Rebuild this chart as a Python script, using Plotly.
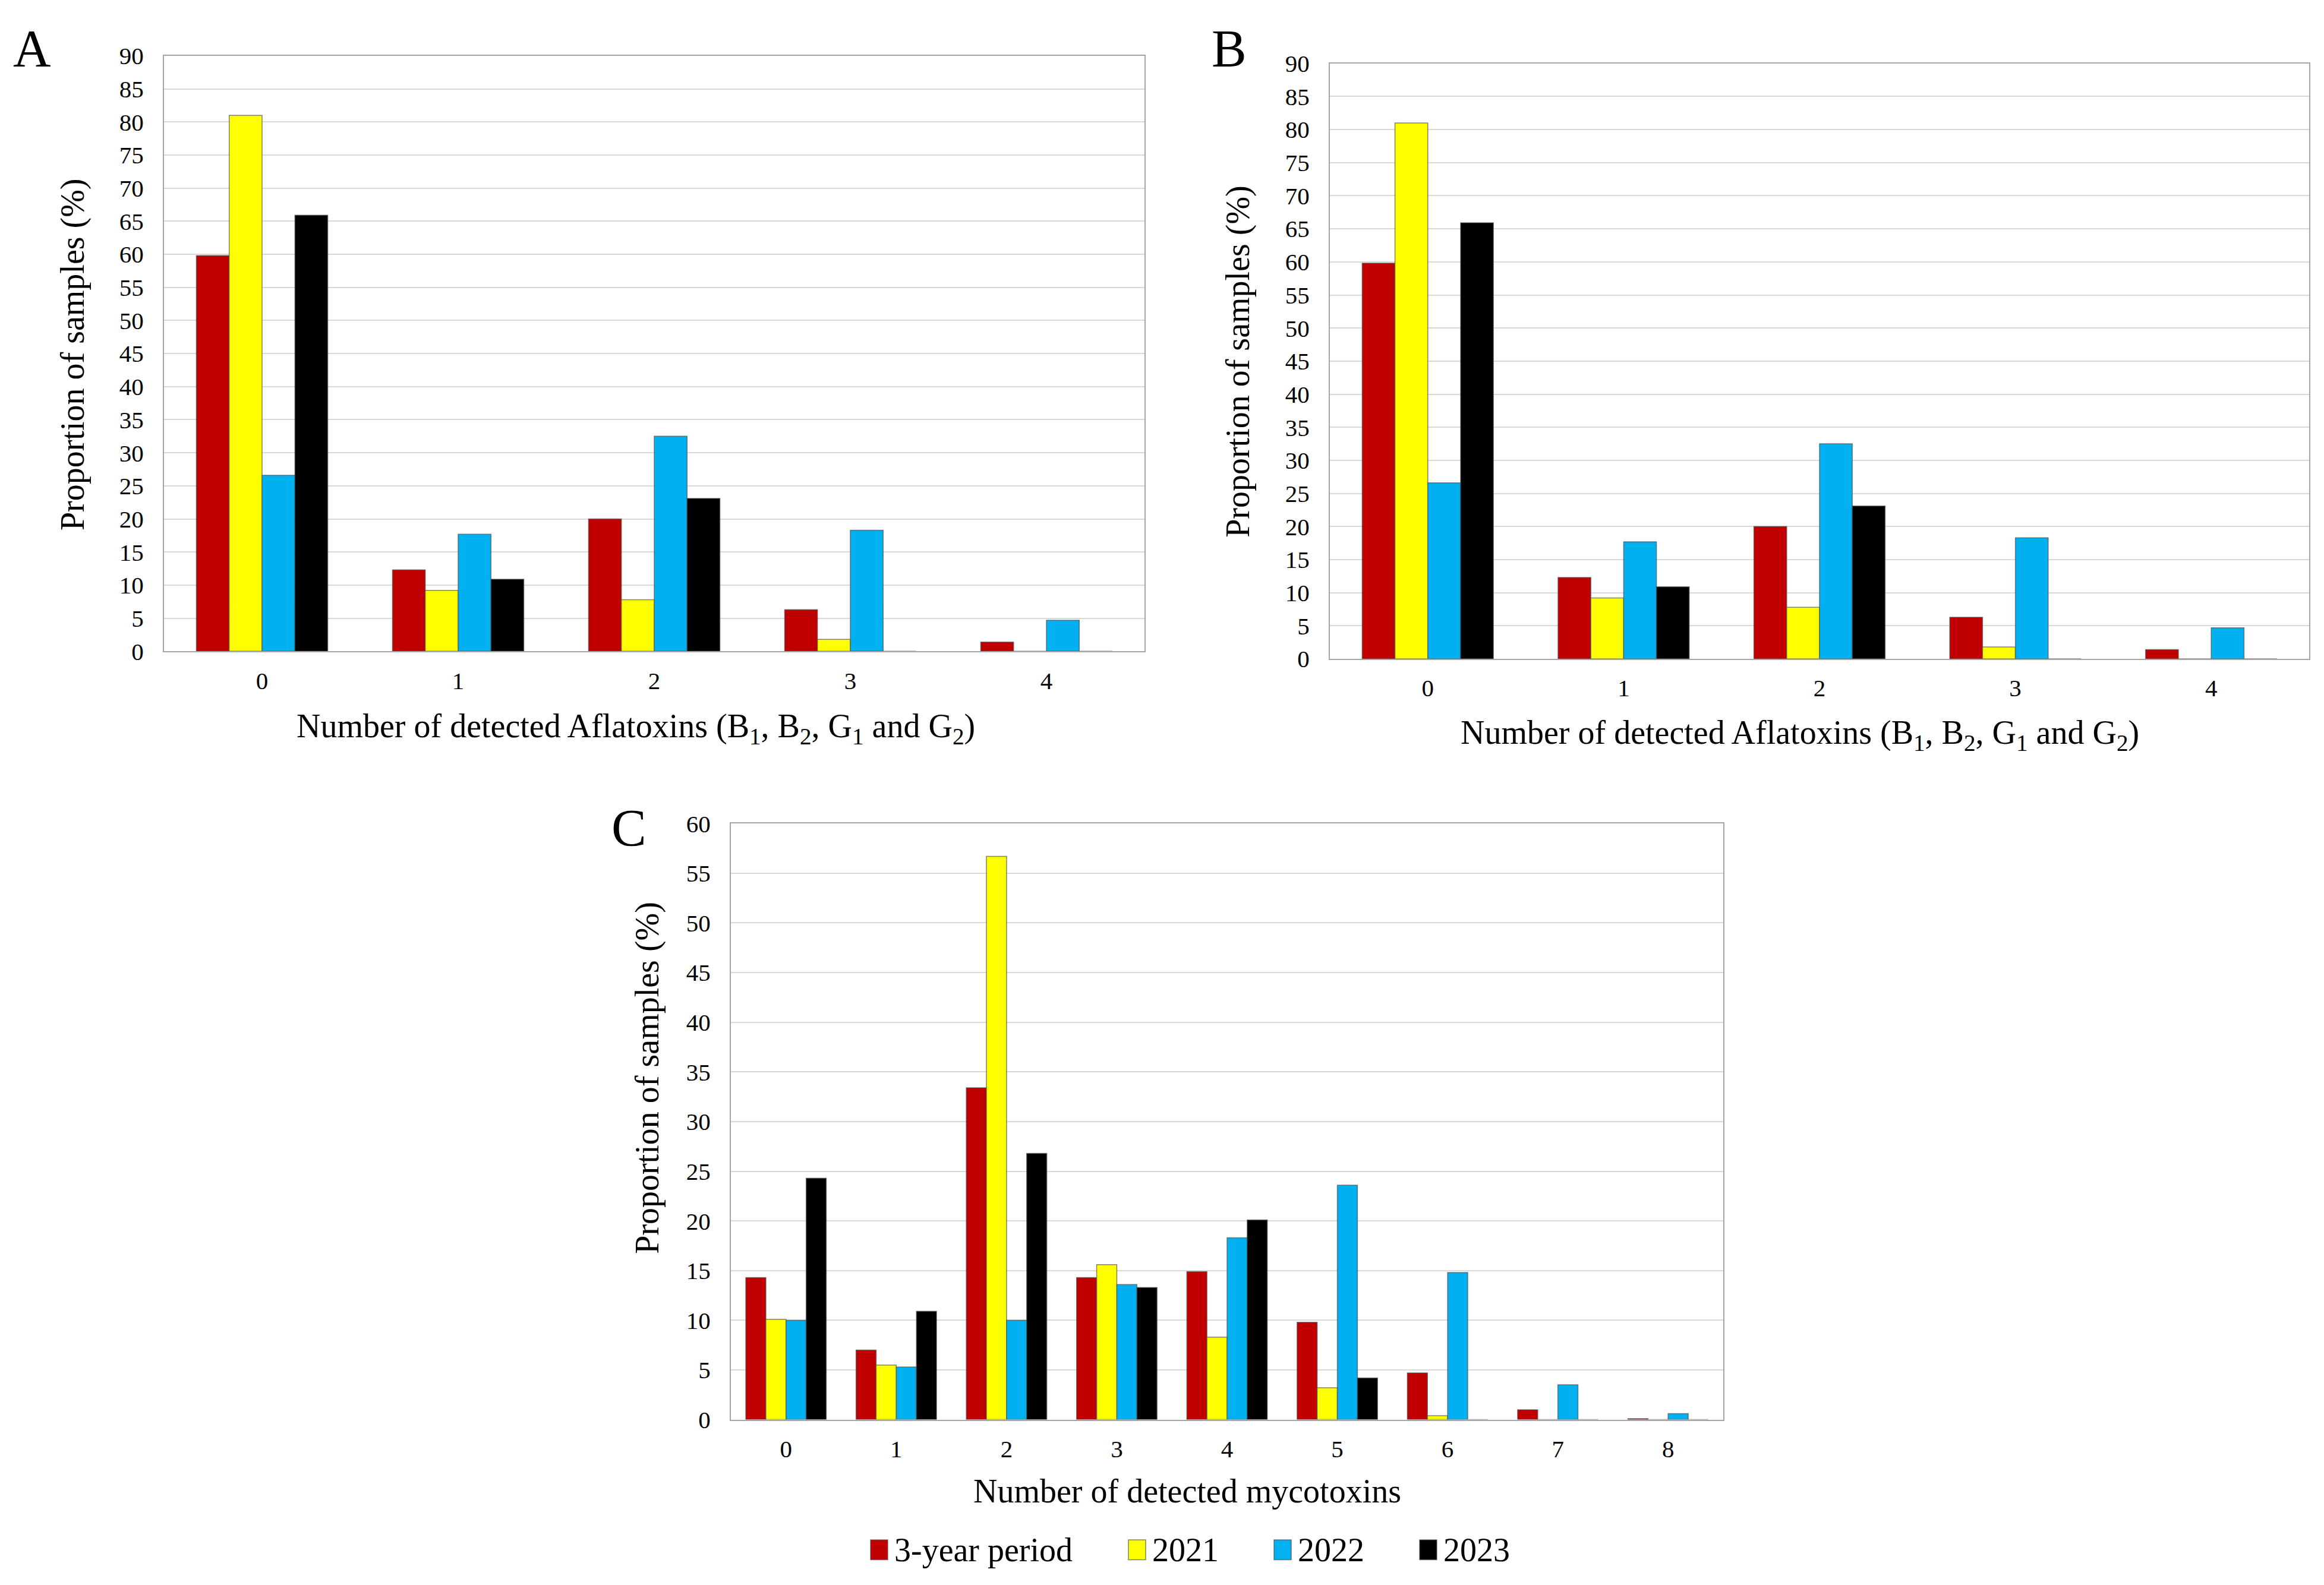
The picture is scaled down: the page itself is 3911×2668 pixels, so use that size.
import plotly.graph_objects as go

# series names and colours
series = ["3-year period", "2021", "2022", "2023"]
colors = ["#C00000", "#FFFF00", "#00B0F0", "#000000"]

# panels A and B: number of detected aflatoxins
afla_cats = ["0", "1", "2", "3", "4"]
afla_period = [59.8, 12.3, 20.0, 6.3, 1.4]
afla_2021 = [81.0, 9.2, 7.8, 1.8, 0.0]
afla_2022 = [26.6, 17.7, 32.5, 18.3, 4.7]
afla_2023 = [65.9, 10.9, 23.1, 0.0, 0.0]

# panel C: number of detected mycotoxins
myco_cats = ["0", "1", "2", "3", "4", "5", "6", "7", "8"]
myco_period = [14.3, 7.0, 33.4, 14.3, 14.9, 9.8, 4.7, 1.0, 0.1]
myco_2021 = [10.1, 5.5, 56.7, 15.6, 8.3, 3.2, 0.4, 0.0, 0.0]
myco_2022 = [10.0, 5.3, 10.0, 13.6, 18.3, 23.6, 14.8, 3.5, 0.6]
myco_2023 = [24.3, 10.9, 26.8, 13.3, 20.1, 4.2, 0.0, 0.0, 0.0]

afla_vals = [afla_period, afla_2021, afla_2022, afla_2023]
myco_vals = [myco_period, myco_2021, myco_2022, myco_2023]

FONT = "Liberation Serif"
W, H = 3911, 2668
EDGE = dict(color="rgba(80,80,80,0.7)", width=1.5)


def add_group(cats, all_vals, ax, group_frac):
    # 4 bars side by side inside each category slot
    w = group_frac / len(all_vals)
    for i, (name, col, vals) in enumerate(zip(series, colors, all_vals)):
        fig.add_trace(go.Bar(
            x=cats, y=vals, name=name, showlegend=False,
            width=w, offset=-group_frac / 2 + i * w,
            marker=dict(color=col, line=EDGE),
            xaxis="x" + ax, yaxis="y" + ax))


fig = go.Figure()
add_group(afla_cats, afla_vals, "", 0.67)
add_group(afla_cats, afla_vals, "2", 0.67)
add_group(myco_cats, myco_vals, "3", 0.73)

xcommon = dict(type="category", showgrid=False, showline=True, mirror=True,
               linecolor="#A6A6A6", linewidth=2, ticks="",
               tickfont=dict(family=FONT, size=41, color="black"),
               ticklabelstandoff=12, zeroline=False)
ycommon = dict(showgrid=True, gridcolor="#D9D9D9", gridwidth=2,
               showline=True, mirror=True, linecolor="#A6A6A6", linewidth=2,
               ticks="", tickfont=dict(family=FONT, size=41, color="black"),
               ticklabelstandoff=24, zeroline=False)

fig.update_layout(
    width=W, height=H,
    margin=dict(l=0, r=0, t=0, b=0),
    paper_bgcolor="white", plot_bgcolor="white",
    barmode="overlay",
    showlegend=False,
    font=dict(family=FONT, color="black"),
    xaxis=dict(domain=[268 / W, 1918 / W], anchor="y", **xcommon),
    yaxis=dict(domain=[1 - 1084 / H, 1 - 64 / H], anchor="x", range=[0, 90], dtick=5, **ycommon),
    xaxis2=dict(domain=[2230 / W, 3878 / W], anchor="y2", **xcommon),
    yaxis2=dict(domain=[1 - 1097 / H, 1 - 77 / H], anchor="x2", range=[0, 90], dtick=5, **ycommon),
    xaxis3=dict(domain=[1222 / W, 2892 / W], anchor="y3", **xcommon),
    yaxis3=dict(domain=[1 - 2400 / H, 1 - 1379 / H], anchor="x3", range=[0, 60], dtick=5, **ycommon),
)

anns = []
# panel letters
for letter, x, y in [("A", 46, 0), ("B", 2060, 0), ("C", 1050, 1335)]:
    anns.append(dict(text=letter, x=x / W, y=1 - y / H, xref="paper", yref="paper",
                     showarrow=False, xanchor="center", yanchor="top",
                     font=dict(family=FONT, size=88, color="black")))

afla_title = "Number of detected Aflatoxins (B<sub>1</sub>, B<sub>2</sub>, G<sub>1</sub> and G<sub>2</sub>)"
ytitle = "Proportion of samples (%)"
titles = [
    (afla_title, 1062, 1216, 0),
    (afla_title, 3021, 1227, 0),
    ("Number of detected mycotoxins", 1990, 2522, 0),
    (ytitle, 114, 576, -90),
    (ytitle, 2076, 588, -90),
    (ytitle, 1082, 1815, -90),
]
for t, x, y, ang in titles:
    anns.append(dict(text=t, x=x / W, y=1 - y / H, xref="paper", yref="paper", showarrow=False,
                     xanchor="center", yanchor="middle", textangle=ang,
                     font=dict(family=FONT, size=56, color="black")))

# legend below panel C: coloured keys and labels
legend_x = [1457, 1891, 2136, 2381]
key_w, key_top, key_bot, legend_y = 29, 2606, 2640, 2623
shapes = []
for name, col, x0 in zip(series, colors, legend_x):
    shapes.append(dict(type="rect", xref="paper", yref="paper",
                       x0=x0 / W, x1=(x0 + key_w) / W, y0=1 - key_bot / H, y1=1 - key_top / H,
                       fillcolor=col, line=dict(color="rgba(80,80,80,0.7)", width=1.5)))
    anns.append(dict(text=name, x=(x0 + key_w + 9) / W, y=1 - legend_y / H,
                     xref="paper", yref="paper", showarrow=False,
                     xanchor="left", yanchor="middle",
                     font=dict(family=FONT, size=56, color="black")))

fig.update_layout(annotations=anns, shapes=shapes)

fig.write_html("out.html")
